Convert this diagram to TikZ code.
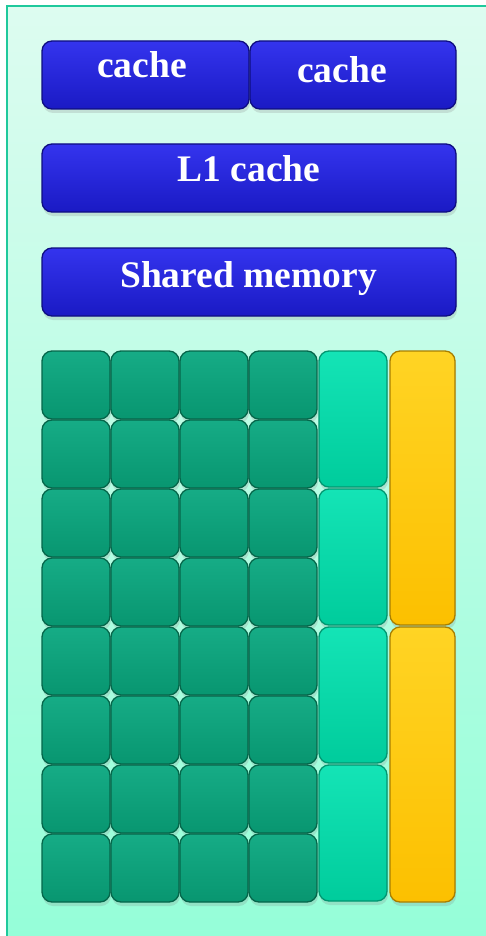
\documentclass[tikz,border=0pt]{standalone}
\usepackage{fontspec}
\setmainfont{Liberation Serif}
\usetikzlibrary{positioning,shadows}
\definecolor{mintTop}{HTML}{DDFCF0}
\definecolor{mintBot}{HTML}{94FED8}
\definecolor{frameline}{HTML}{1FC99C}
\definecolor{blueTop}{HTML}{3434EE}
\definecolor{blueMid}{HTML}{2020D6}
\definecolor{blueBot}{HTML}{1A1AC4}
\definecolor{blueEdge}{HTML}{0E0E80}
\definecolor{coreTop}{HTML}{16AC86}
\definecolor{coreMid}{HTML}{0AA07A}
\definecolor{coreBot}{HTML}{089670}
\definecolor{coreEdge}{HTML}{05664A}
\definecolor{sfuTop}{HTML}{14E4B6}
\definecolor{sfuMid}{HTML}{00D6A4}
\definecolor{sfuBot}{HTML}{00CC9C}
\definecolor{sfuEdge}{HTML}{009670}
\definecolor{ldTop}{HTML}{FFD424}
\definecolor{ldMid}{HTML}{FFC808}
\definecolor{ldBot}{HTML}{FCC000}
\definecolor{ldEdge}{HTML}{A87E00}

\begin{document}
\begin{tikzpicture}[x=1pt,y=-1pt,
  node distance=1pt,
  cell/.style={rounded corners=10pt,line width=1.3pt,inner sep=0pt,outer sep=0pt,
    drop shadow={shadow xshift=1pt,shadow yshift=-4pt,opacity=.22}},
  cachebox/.style={cell,draw=blueEdge,top color=blueTop,middle color=blueMid,bottom color=blueBot,minimum height=68pt},
  corecell/.style={cell,draw=coreEdge,top color=coreTop,middle color=coreMid,bottom color=coreBot,minimum width=68pt,minimum height=68pt},
  sfucell/.style={cell,draw=sfuEdge,top color=sfuTop,middle color=sfuMid,bottom color=sfuBot,minimum width=68pt,minimum height=136pt},
  ldstcell/.style={cell,draw=ldEdge,top color=ldTop,middle color=ldMid,bottom color=ldBot,minimum width=65pt,minimum height=274pt},
  lbl/.style={anchor=base,text=white,font=\fontsize{37.5}{40}\selectfont\bfseries,inner sep=0pt}]
\useasboundingbox (0,0) rectangle (485,936);
% background panel
\fill[top color=mintTop,bottom color=mintBot] (7,6) rectangle (500,950);
\draw[frameline,line width=2pt] (500,6) -- (7,6) -- (7,950);

% cache boxes
\node[cachebox,minimum width=207pt] (cacheA) at (145.5,75) {};
\node[cachebox,minimum width=206pt,right=of cacheA] (cacheB) {};
\node[cachebox,minimum width=414pt,below right=35pt and 0pt of cacheA.south west,anchor=north west] (l1) {};
\node[cachebox,minimum width=414pt,below=36pt of l1] (smem) {};
\node[lbl] (cacheAtxt) at ([xshift=-3.5pt,yshift=-3pt]cacheA.center) {cache};
\node[lbl] (cacheBtxt) at ([xshift=-11pt,yshift=-8pt]cacheB.center) {cache};
\node[lbl] (l1txt) at ([yshift=-4pt]l1.center) {L1 cache};
\node[lbl] (smemtxt) at ([xshift=-0.5pt,yshift=-5pt]smem.center) {Shared memory};

% cores
\foreach \r in {0,...,7}
  \foreach \c in {0,...,3}
    \node[corecell] (core\r\c) at (76+69*\c,385+69*\r) {};

% special function units
\foreach \k in {0,...,3}
  \node[sfucell] (sfu\k) at (353,419+138*\k) {};

% load/store units
\node[ldstcell] (ldst0) at (422.5,488) {};
\node[ldstcell,minimum height=275pt] (ldst1) at (422.5,764.5) {};
\end{tikzpicture}
\end{document}
